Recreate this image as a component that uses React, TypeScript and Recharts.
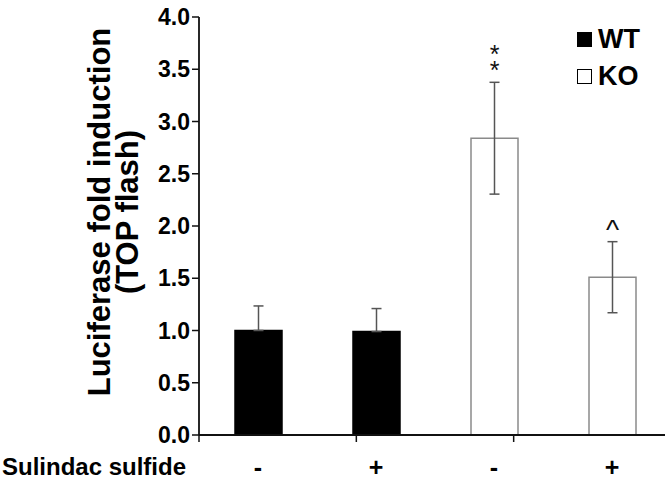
import { BarChart, Bar, Cell, XAxis, YAxis, ErrorBar, LabelList, Legend } from 'recharts';

const groups = ['WT -', 'WT +', 'KO -', 'KO +'];
const genotype = ['WT', 'WT', 'KO', 'KO'];
const treatment = ['-', '+', '-', '+'];
const foldInduction = [1.0, 0.99, 2.84, 1.51];
const sem = [0.235, 0.22, 0.535, 0.34];
const marks = ['', '', '**', '^'];
const yTicks = [0, 0.5, 1, 1.5, 2, 2.5, 3, 3.5, 4];
const legendItems = ['WT', 'KO'];

const FONT = '"Liberation Sans", Arial, Helvetica, sans-serif';

// WT bars are solid black, so only the upper half of their error bar shows
const data = groups.map((g, i) => ({
  id: g,
  value: foldInduction[i],
  err: genotype[i] === 'WT' ? [0, sem[i]] : [sem[i], sem[i]],
  mark: marks[i],
}));

const YLabel = (props: any) => {
  const vb = props.viewBox || { y: 0, height: 0 };
  const cy = vb.y + vb.height / 2 - 14;
  return (
    <g fontFamily={FONT} fontWeight="bold" fontSize={31} fill="#000">
      <text transform={`translate(110, ${cy}) rotate(-90)`} textAnchor="middle">
        Luciferase fold induction
      </text>
      <text transform={`translate(138, ${cy}) rotate(-90)`} textAnchor="middle">
        (TOP flash)
      </text>
    </g>
  );
};

const XLabel = () => (
  <text x={2} y={475} fontFamily={FONT} fontWeight="bold" fontSize={24} fill="#000">
    Sulindac sulfide
  </text>
);

const Mark = (props: any) => {
  const { x, y, width, height, index } = props;
  const m = marks[index];
  if (!m) return null;
  const perUnit = height / foldInduction[index];
  const top = y - sem[index] * perUnit;
  const cx = x + width / 2;
  if (m === '**') {
    return (
      <text x={cx} y={top - 19} fontFamily={FONT} fontSize={25} fill="#111" textAnchor="middle">
        <tspan x={cx}>*</tspan>
        <tspan x={cx} dy={16}>*</tspan>
      </text>
    );
  }
  return (
    <text x={cx} y={top - 3} fontFamily={FONT} fontSize={28} fill="#111" textAnchor="middle">
      {m}
    </text>
  );
};

const LegendBox = () => (
  <div style={{ fontFamily: FONT, fontWeight: 'bold', fontSize: 27, color: '#000' }}>
    {legendItems.map((name, i) => (
      <div key={name} style={{ display: 'flex', alignItems: 'center', height: 37 }}>
        <div
          style={{
            width: 15,
            height: 15,
            boxSizing: 'border-box',
            background: i === 0 ? '#000' : '#fff',
            border: '1.5px solid #000',
            marginRight: 6,
          }}
        />
        <span>{name}</span>
      </div>
    ))}
  </div>
);

export default function App() {
  return (
    <div
      style={{
        position: 'fixed',
        left: 0,
        top: 0,
        width: 665,
        height: 481,
        overflow: 'hidden',
        background: '#fff',
      }}
    >
      <BarChart width={680} height={481} data={data} margin={{ top: 17, right: 9, left: 0, bottom: 0 }}>
        {/* axis line with ticks at the category boundaries */}
        <XAxis
          xAxisId={0}
          type="number"
          domain={[0, 4]}
          ticks={[0, 1, 2, 3, 4]}
          allowDataOverflow
          height={1}
          tickSize={7}
          tickFormatter={() => ''}
          axisLine={{ stroke: '#111', strokeWidth: 1.8 }}
          tickLine={{ stroke: '#111', strokeWidth: 1.5 }}
        />
        <XAxis
          xAxisId={1}
          dataKey="id"
          height={45}
          axisLine={false}
          tickLine={false}
          tickSize={0}
          tickMargin={22}
          tickFormatter={(_v: any, i: number) => treatment[i]}
          tick={{ fontFamily: FONT, fontWeight: 'bold', fontSize: 25, fill: '#000' }}
          label={<XLabel />}
        />
        <YAxis
          width={199}
          domain={[0, 4]}
          ticks={yTicks}
          tickSize={7}
          tickMargin={2}
          tickFormatter={(v: number) => v.toFixed(1)}
          tick={{ fontFamily: FONT, fontWeight: 'bold', fontSize: 23, fill: '#000' }}
          axisLine={{ stroke: '#111', strokeWidth: 1.8 }}
          tickLine={{ stroke: '#111', strokeWidth: 1.5 }}
          label={<YLabel />}
        />
        <Legend
          layout="vertical"
          align="center"
          verticalAlign="middle"
          content={<LegendBox />}
          wrapperStyle={{ position: 'absolute', top: 21, left: 577, width: 90, height: 74 }}
        />
        <Bar dataKey="value" xAxisId={1} barSize={47} isAnimationActive={false}>
          {data.map((d, i) => (
            <Cell
              key={d.id}
              fill={genotype[i] === 'WT' ? '#000' : '#fff'}
              stroke={genotype[i] === 'WT' ? '#000' : '#8a8a8a'}
              strokeWidth={1.5}
            />
          ))}
          <ErrorBar dataKey="err" direction="y" width={5} stroke="#555" strokeWidth={1.5} />
          <LabelList dataKey="mark" content={<Mark />} />
        </Bar>
      </BarChart>
    </div>
  );
}
